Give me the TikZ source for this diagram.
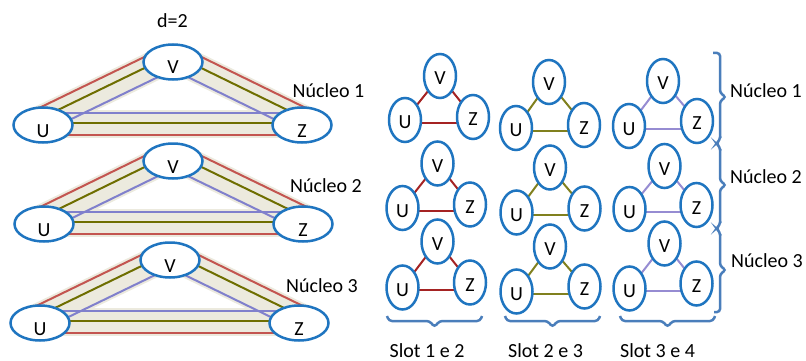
\documentclass[tikz,border=0pt]{standalone}
\usepackage{fontspec}
\setmainfont{Carlito}
\usetikzlibrary{shapes.geometric,calc,backgrounds}
\definecolor{ellblue}{RGB}{31,117,192}
\definecolor{bandc}{RGB}{236,234,222}
\definecolor{lred}{RGB}{195,85,80}
\definecolor{lolive}{RGB}{110,110,0}
\definecolor{lblue}{RGB}{128,128,204}
\definecolor{sred}{RGB}{165,35,35}
\definecolor{solive}{RGB}{128,128,30}
\definecolor{sblue}{RGB}{150,140,210}
\definecolor{bracec}{RGB}{74,126,187}
\newcommand\lowtxt[2]{\smash{\raisebox{-#1pt}{#2}}}
\newcommand\offedge[4]{\draw[#4] ($(#1.center)!#3pt!90:(#2.center)$) -- ($(#2.center)!#3pt!-90:(#1.center)$);}
\newcommand\hbrace[2]{\draw[brk] (#1,316) -- (#1+2,321) -- ({(#1+#2)/2-5},321) -- ({(#1+#2)/2},327) -- ({(#1+#2)/2+5},321) -- (#2-2,321) -- (#2,316);}
\begin{document}
\begin{tikzpicture}[x=1pt,y=-1pt, font=\fontsize{20}{24}\selectfont,
  bigell/.style={ellipse, draw=ellblue, line width=2.5pt, fill=white, minimum width=59pt, minimum height=35pt, inner sep=0pt},
  smell/.style={ellipse, draw=ellblue, line width=2.5pt, fill=white, minimum width=32pt, minimum height=44pt, inner sep=0pt},
  bandline/.style={draw=bandc, line width=#1pt},
  tline/.style={draw=#1, line width=2pt},
  sline/.style={draw=#1, line width=2pt},
  brk/.style={draw=bracec, line width=2.5pt, rounded corners=3pt},
  lbl/.style={anchor=base, inner sep=0pt}]
\useasboundingbox (0,0) rectangle (806,361);

\node[lbl] (d) at (172.5,28) {d=2};

% big triangles
\foreach \t/\k/\ux/\uy/\vx/\vy/\zx/\zy/\nx/\ny in {a/1/43/125/173/62/302/125/328.5/97, b/2/44/224/173/161/303/224/326/192, c/3/40/323/170/260/299/323/322/292}{
  \node[bigell] (U\t) at (\ux,\uy) {\lowtxt{12}{U}};
  \node[bigell] (V\t) at (\vx,\vy) {\lowtxt{12}{V}};
  \node[bigell] (Z\t) at (\zx,\zy) {\lowtxt{12}{Z}};
  \node[lbl] (N\t) at (\nx,\ny) {Núcleo \k};
  \begin{pgfonlayer}{background}
    \offedge{U\t}{V\t}{5}{bandline=30}
    \offedge{V\t}{Z\t}{5}{bandline=30}
    \offedge{Z\t}{U\t}{-1.5}{bandline=28}
    \offedge{U\t}{V\t}{17}{tline=lred}
    \offedge{V\t}{Z\t}{17}{tline=lred}
    \offedge{Z\t}{U\t}{9.5}{tline=lred}
    \offedge{U\t}{V\t}{7}{tline=lolive}
    \offedge{V\t}{Z\t}{7}{tline=lolive}
    \offedge{Z\t}{U\t}{-2.5}{tline=lolive}
    \offedge{U\t}{V\t}{-7}{tline=lblue}
    \offedge{V\t}{Z\t}{-7}{tline=lblue}
    \offedge{Z\t}{U\t}{-12.5}{tline=lblue}
  \end{pgfonlayer}
}

% small graphs
\foreach \g/\col/\vx/\vy/\ux/\uy/\zx/\zy in {
  a1/sred/440/76/405/120/473/117,
  a2/sred/437.5/163.5/402.5/208/470/204.5,
  a3/sred/437.5/241.5/402.5/287.5/470/282.5,
  b1/solive/549/82/516/128/584/125,
  b2/solive/550/167.5/516.5/212.5/584.5/208.5,
  b3/solive/550/246.5/516.5/291.5/584.5/286.5,
  c1/sblue/663/81/629/126/697/121,
  c2/sblue/664.5/166/629.5/209/696.5/205,
  c3/sblue/664.5/243.5/629.5/288.5/696.5/283.5}{
  \node[smell] (sV\g) at (\vx,\vy) {\lowtxt{9}{V}};
  \node[smell] (sU\g) at (\ux,\uy) {\lowtxt{9}{U}};
  \node[smell] (sZ\g) at (\zx,\zy) {\lowtxt{9}{Z}};
  \begin{pgfonlayer}{background}
    \coordinate (h\g) at ($(sU\g.center)+(0,2.5)$);
    \draw[sline=\col] (sU\g.center) -- (sV\g.center) -- (sZ\g.center);
    \draw[sline=\col] (h\g) -- (h\g -| sZ\g.center);
  \end{pgfonlayer}
}

% right bracket
\draw[brk] (713,53) -- (720,53) -- (720,93) -- (726,97) -- (720,101)
  -- (720,140) -- (716,143.5) -- (720,147)
  -- (720,181) -- (726,185) -- (720,189)
  -- (720,225) -- (716,228.5) -- (720,232)
  -- (720,266) -- (726,270) -- (720,274)
  -- (720,312) -- (714,312);
\node[lbl, anchor=base west] (r1) at (730,97) {Núcleo 1};
\node[lbl, anchor=base west] (r2) at (730,183) {Núcleo 2};
\node[lbl, anchor=base west] (r3) at (731,267) {Núcleo 3};

% bottom braces
\hbrace{387}{482}
\hbrace{505}{600}
\hbrace{620}{715}
\node[lbl] (s1) at (427,357) {Slot 1 e 2};
\node[lbl] (s2) at (545.5,357) {Slot 2 e 3};
\node[lbl] (s3) at (657.5,357) {Slot 3 e 4};
\end{tikzpicture}
\end{document}
